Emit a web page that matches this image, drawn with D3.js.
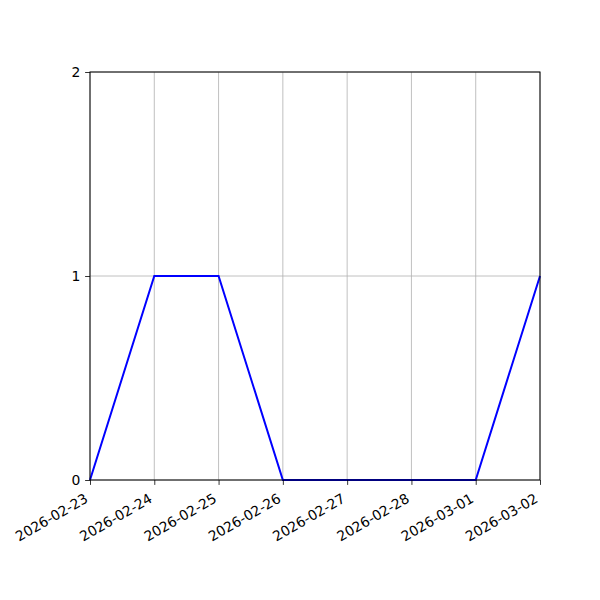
<!DOCTYPE html>
<html><head><meta charset="utf-8">
<script src="https://cdn.jsdelivr.net/npm/d3@7"></script>
<style>body{margin:0;background:#fff}svg{display:block}text{font-family:"DejaVu Sans";}</style>
</head><body>
<script>
const dates = ["2026-02-23","2026-02-24","2026-02-25","2026-02-26","2026-02-27","2026-02-28","2026-03-01","2026-03-02"];
const values = [0,1,1,0,0,0,0,1];
const yTicks = [0,1,2];

const W=600,H=600, L=90, R=540, T=72, B=480;
const parse = d3.utcParse("%Y-%m-%d");
const data = dates.map((d,i)=>({date:parse(d), v:values[i], label:d}));
const svg = d3.select("body").append("svg").attr("width",W).attr("height",H);
const x = d3.scaleUtc().domain(d3.extent(data,d=>d.date)).range([L,R]);
const y = d3.scaleLinear().domain([0,2]).range([B,T]);

// grid
svg.append("g").selectAll("line").data(data).join("line")
  .attr("x1",d=>x(d.date)).attr("x2",d=>x(d.date)).attr("y1",T).attr("y2",B)
  .attr("stroke","#b0b0b0").attr("stroke-width",0.8);
svg.append("g").selectAll("line").data(yTicks).join("line")
  .attr("x1",L).attr("x2",R).attr("y1",d=>y(d)).attr("y2",d=>y(d))
  .attr("stroke","#b0b0b0").attr("stroke-width",0.8);

// line
svg.append("path").datum(data)
  .attr("d", d3.line().x(d=>x(d.date)).y(d=>y(d.v)))
  .attr("fill","none").attr("stroke","blue").attr("stroke-width",2);

// frame
svg.append("rect").attr("x",L).attr("y",T).attr("width",R-L).attr("height",B-T)
  .attr("fill","none").attr("stroke","black").attr("stroke-width",1);

// x axis
const xa = svg.append("g").attr("transform",`translate(0,${B})`)
  .call(d3.axisBottom(x).tickValues(data.map(d=>d.date)).tickSize(4.9).tickFormat(d3.utcFormat("%Y-%m-%d")));
xa.select(".domain").remove();
xa.selectAll(".tick line").attr("stroke","black").attr("stroke-width",0.8);
xa.selectAll(".tick text").attr("font-size","13.9px").attr("fill","black")
  .attr("text-anchor","end").attr("dy",null).attr("y",null)
  .attr("transform","translate(0,24) rotate(-30)")
  .attr("dy","-3");

// y axis
const ya = svg.append("g").attr("transform",`translate(${L},0)`)
  .call(d3.axisLeft(y).tickValues(yTicks).tickSize(4.9).tickFormat(d3.format("d")));
ya.select(".domain").remove();
ya.selectAll(".tick line").attr("stroke","black").attr("stroke-width",0.8);
ya.selectAll(".tick text").attr("font-size","13.9px").attr("fill","black").attr("x",-9.7);
</script>
</body></html>
